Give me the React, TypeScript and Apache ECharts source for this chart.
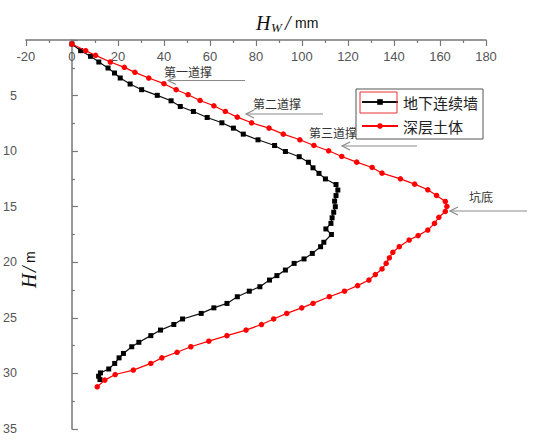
import React, { useEffect, useRef } from "react";
import * as echarts from "echarts";

// 地下连续墙 (wall) horizontal displacement (mm) vs depth (m)
const wallDisp = [0, 3.8, 8.1, 11.7, 15.7, 18.5, 21.0, 25.3, 30.3, 37.1, 43.1, 47.1, 52.8, 58.8, 65.2, 70.2, 74.5, 80.9, 88.1, 92.8, 98.8, 102.8, 104.8, 107.4, 110.2, 114.8, 115.6, 114.8, 114.2, 114.5, 113.8, 113.1, 112.6, 110.4, 112.8, 109.5, 108.1, 104.5, 100.9, 96.6, 92.8, 89.1, 85.9, 81.7, 77.1, 71.9, 67.4, 61.7, 56.2, 48.1, 44.3, 38.5, 34.3, 29.1, 26.0, 22.4, 20.5, 18.6, 16.0, 12.4, 11.6, 12.2];
const wallDepth = [0.36, 0.96, 1.47, 1.98, 2.52, 2.97, 3.42, 3.96, 4.47, 4.98, 5.47, 5.98, 6.43, 6.97, 7.45, 7.93, 8.47, 8.98, 9.49, 10.03, 10.5, 11.0, 11.5, 12.0, 12.5, 13.0, 13.5, 14.0, 14.5, 15.0, 15.5, 16.0, 16.5, 17.0, 17.5, 18.2, 18.6, 19.2, 19.7, 20.1, 20.7, 21.2, 21.6, 22.2, 22.6, 23.1, 23.7, 24.1, 24.6, 25.1, 25.6, 26.1, 26.6, 27.2, 27.6, 28.2, 28.6, 29.1, 29.6, 29.95, 30.25, 30.55];

// 深层土体 (deep soil) horizontal displacement (mm) vs depth (m)
const soilDisp = [0, 6.0, 10.3, 16.7, 22.8, 27.4, 33.4, 40.0, 45.3, 50.5, 55.7, 61.7, 66.7, 71.9, 78.1, 85.7, 91.9, 99.1, 105.2, 111.6, 117.3, 123.8, 130.5, 134.8, 142.8, 149.0, 154.7, 158.5, 162.3, 163.0, 162.3, 159.5, 157.6, 154.7, 150.5, 146.6, 142.3, 139.5, 138.0, 136.6, 134.8, 131.9, 129.1, 124.2, 118.5, 111.9, 104.8, 99.9, 93.4, 87.7, 82.4, 75.7, 67.4, 59.5, 51.7, 45.7, 39.1, 34.3, 26.7, 18.8, 14.3, 11.0];
const soilDepth = [0.36, 0.96, 1.38, 1.98, 2.46, 2.91, 3.42, 3.93, 4.47, 4.92, 5.44, 5.92, 6.43, 6.94, 7.45, 7.93, 8.47, 8.98, 9.49, 9.97, 10.48, 10.99, 11.47, 11.98, 12.49, 12.97, 13.48, 13.99, 14.53, 14.98, 15.43, 15.95, 16.5, 17.1, 17.6, 18.0, 18.6, 19.1, 19.6, 20.1, 20.6, 21.1, 21.6, 22.1, 22.6, 23.1, 23.7, 24.1, 24.6, 25.1, 25.6, 26.1, 26.6, 27.1, 27.6, 28.1, 28.6, 29.1, 29.7, 30.1, 30.6, 31.2];

const seriesNames = ["地下连续墙", "深层土体"];
const annotationLabels = ["第一道撑", "第二道撑", "第三道撑", "坑底"];

const CJK = "'Noto Sans CJK SC', sans-serif";

function arrow(x1: number, x2: number, y: number) {
  // horizontal arrow pointing left, head at x2
  return [
    { type: "line", shape: { x1, y1: y, x2, y2: y }, style: { stroke: "#8a8a8a", lineWidth: 1.2 } },
    {
      type: "polyline",
      shape: { points: [[x2 + 8, y - 4], [x2, y], [x2 + 8, y + 4]] },
      style: { stroke: "#8a8a8a", lineWidth: 1.2, fill: null },
    },
  ];
}

export default function App() {
  const ref = useRef<HTMLDivElement>(null);
  useEffect(() => {
    if (!ref.current) return;
    const chart = echarts.init(ref.current, null, { renderer: "svg" });
    const wall = wallDisp.map((v, i) => [v, wallDepth[i]]);
    const soil = soilDisp.map((v, i) => [v, soilDepth[i]]);
    const axisGray = "#777";
    const labelGray = "#555";

    const annText = (text: string, x: number, y: number) => ({
      type: "text",
      x,
      y,
      style: {
        text,
        fill: "#333",
        font: `12px ${CJK}`,
        align: "center",
        verticalAlign: "middle",
      },
    });

    chart.setOption({
      animation: false,
      backgroundColor: "#fff",
      grid: { left: 19, right: 68, top: 40, bottom: 12, containLabel: false },
      xAxis: {
        type: "value",
        position: "top",
        min: -20,
        max: 180,
        interval: 20,
        axisLine: { show: true, onZero: true, lineStyle: { color: axisGray, width: 1.5 } },
        axisTick: { show: true, inside: true, length: 6, lineStyle: { color: axisGray, width: 1.2 } },
        minorTick: { show: true, splitNumber: 2, length: 3, lineStyle: { color: axisGray, width: 1.2 } },
        axisLabel: {
          inside: true,
          margin: 10,
          color: labelGray,
          fontSize: 13,
          fontFamily: "'Liberation Sans', Arial, sans-serif",
        },
        splitLine: { show: false },
      },
      yAxis: {
        type: "value",
        inverse: true,
        min: 0,
        max: 35,
        interval: 5,
        axisLine: { show: true, onZero: true, lineStyle: { color: axisGray, width: 1.5 } },
        axisTick: { show: true, inside: true, length: 6, lineStyle: { color: axisGray, width: 1.2 } },
        minorTick: { show: true, splitNumber: 2, length: 3, lineStyle: { color: axisGray, width: 1.2 } },
        axisLabel: {
          margin: 9,
          color: labelGray,
          fontSize: 12.5,
          showMinLabel: false,
          fontFamily: "'Liberation Sans', Arial, sans-serif",
        },
        splitLine: { show: false },
      },
      legend: {
        data: seriesNames,
        orient: "vertical",
        left: 356,
        top: 89,
        padding: [4, 5, 4, 5],
        itemWidth: 36,
        itemHeight: 7,
        itemGap: 6,
        borderColor: "#555",
        borderWidth: 1,
        backgroundColor: "#fff",
        textStyle: { fontSize: 15, fontFamily: CJK, color: "#222", lineHeight: 18 },
      },
      series: [
        {
          name: seriesNames[0],
          type: "line",
          data: wall,
          symbol: "rect",
          symbolSize: 5,
          lineStyle: { color: "#111", width: 1.2 },
          itemStyle: { color: "#000" },
          z: 3,
        },
        {
          name: seriesNames[1],
          type: "line",
          data: soil,
          symbol: "circle",
          symbolSize: 5.5,
          lineStyle: { color: "#ff0000", width: 1.2 },
          itemStyle: { color: "#ff0000" },
          z: 4,
        },
      ],
      graphic: [
        // x axis title: H_W / mm
        { type: "text", x: 256, y: 13, style: { text: "H", font: "italic 20px 'Liberation Serif', serif", fill: "#111" } },
        { type: "text", x: 271, y: 21, style: { text: "W", font: "italic 13px 'Liberation Serif', serif", fill: "#111" } },
        { type: "text", x: 285, y: 13, style: { text: "/", font: "italic 20px 'Liberation Serif', serif", fill: "#111" } },
        { type: "text", x: 295, y: 16, style: { text: "mm", font: "14px 'Liberation Sans', sans-serif", fill: "#111" } },
        // y axis title: H / m (rotated)
        {
          type: "group",
          x: 19,
          y: 288,
          rotation: Math.PI / 2,
          children: [
            { type: "text", x: 0, y: 0, style: { text: "H", font: "italic 20px 'Liberation Serif', serif", fill: "#111" } },
            { type: "text", x: 16, y: 0, style: { text: "/", font: "italic 20px 'Liberation Serif', serif", fill: "#111" } },
            { type: "text", x: 25, y: 4, style: { text: "m", font: "14px 'Liberation Sans', sans-serif", fill: "#111" } },
          ],
        },
        // red highlight box around first legend icon
        {
          type: "rect",
          z: 200,
          shape: { x: 360, y: 92, width: 37, height: 21 },
          style: { fill: null, stroke: "#e83030", lineWidth: 1 },
        },
        // annotations
        annText(annotationLabels[0], 188, 71),
        ...arrow(245, 168, 80.5),
        annText(annotationLabels[1], 277, 103),
        ...arrow(323, 246, 114),
        annText(annotationLabels[2], 333, 132),
        ...arrow(417, 342, 146),
        annText(annotationLabels[3], 481, 196),
        ...arrow(527, 450, 211),
      ],
    });
    return () => chart.dispose();
  }, []);
  return (
    <div
      ref={ref}
      style={{ position: "fixed", left: 0, top: 0, width: 554, height: 441, background: "#fff" }}
    />
  );
}
